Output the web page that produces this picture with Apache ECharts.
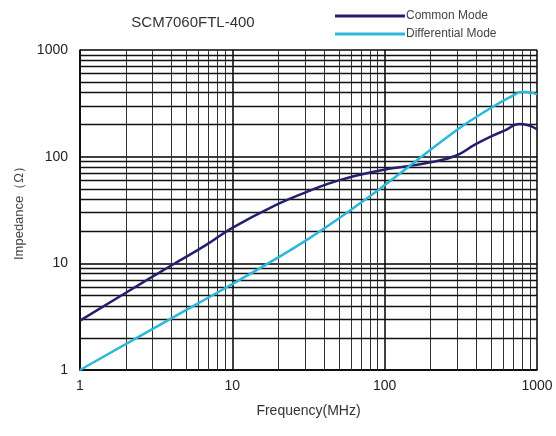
<!DOCTYPE html>
<html>
<head>
<meta charset="utf-8">
<script src="https://cdn.jsdelivr.net/npm/echarts@6/dist/echarts.min.js"></script>
<style>html,body{margin:0;padding:0;background:#fff;}#c{width:556px;height:436px;}</style>
</head>
<body>
<div id="c"></div>
<script>
var titleText = 'SCM7060FTL-400';
var seriesNames = ['Common Mode', 'Differential Mode'];
var commonFreq = [1, 2, 4, 6.7, 10, 20, 30, 50, 97, 145, 196, 293, 396, 509, 622, 761, 863, 1000];
var commonZ    = [2.9, 5.3, 9.6, 14.8, 21.5, 36, 46, 60, 75, 82, 88, 102, 131, 157, 177, 202, 198, 181];
var diffFreq = [1, 3.9, 10, 30.5, 79, 293, 484, 689, 800, 900, 1000];
var diffZ    = [1.0, 3.0, 6.4, 16.4, 42, 175, 280, 372, 405, 400, 386];
var xMinorTicks = [2,3,4,5,6,7,8,9,20,30,40,50,60,70,80,90,200,300,400,500,600,700,800,900];
var yMinorTicks = [2,3,4,5,6,7,8,9,20,30,40,50,60,70,80,90,200,300,400,500,600,700,800,900];
var xAxisName = 'Frequency(MHz)';
var yAxisName = 'Impedance（Ω）';

function pairs(xs, ys){ return xs.map(function(x,i){ return [x, ys[i]]; }); }

var chart = echarts.init(document.getElementById('c'), null, {renderer:'canvas'});
var font = 'Liberation Sans, Arial, sans-serif';
var gridMarks = xMinorTicks.map(function(v){ return {xAxis: v, lineStyle:{color:'#333', width:1, type:'solid'}}; })
  .concat(yMinorTicks.map(function(v){ return {yAxis: v, lineStyle:{color:'#111', width:1.4, type:'solid'}}; }));

chart.setOption({
  animation: false,
  backgroundColor: '#fff',
  title: {
    text: titleText, left: 188, top: 10, textAlign: 'center',
    textStyle: {fontFamily: font, fontSize: 15, fontWeight: 'normal', color: '#333'}
  },
  legend: {
    data: seriesNames.map(function(n){ return {name: n, icon: 'rect'}; }),
    orient: 'vertical', left: 330, top: 5, itemWidth: 70, itemHeight: 3, itemGap: 6,
    textStyle: {fontFamily: font, fontSize: 12, color: '#444', padding: [0,0,0,-4]}
  },
  grid: {left: 80, right: 19, top: 50, bottom: 66},
  xAxis: {
    type: 'log', logBase: 10, min: 1, max: 1000,
    name: xAxisName, nameLocation: 'middle', nameGap: 34,
    nameTextStyle: {fontFamily: font, fontSize: 14, color: '#333'},
    axisLine: {show: true, lineStyle: {color: '#000', width: 1.5}},
    axisTick: {show: false},
    axisLabel: {fontFamily: font, fontSize: 14, color: '#222', margin: 9, formatter: function(v){ return String(Math.round(v)); }},
    splitLine: {show: true, lineStyle: {color: '#000', width: 1.5}}
  },
  yAxis: {
    type: 'log', logBase: 10, min: 1, max: 1000,
    name: yAxisName, nameLocation: 'middle', nameGap: 52, nameRotate: 90,
    nameTextStyle: {fontFamily: font, fontSize: 13, color: '#444'},
    axisLine: {show: true, lineStyle: {color: '#000', width: 1.5}},
    axisTick: {show: false},
    axisLabel: {fontFamily: font, fontSize: 14, color: '#222', margin: 12, formatter: function(v){ return String(Math.round(v)); }},
    splitLine: {show: true, lineStyle: {color: '#000', width: 1.5}}
  },
  series: [
    {
      name: 'grid', type: 'line', data: [], z: 1, silent: true,
      markLine: {silent: true, symbol: 'none', label: {show: false}, animation: false,
        lineStyle: {type: 'solid'}, emphasis: {disabled: true}, data: gridMarks}
    },
    {
      name: seriesNames[0], type: 'line', data: pairs(commonFreq, commonZ), smooth: 0.5,
      symbol: 'none', z: 5, color: '#23206e', lineStyle: {color: '#23206e', width: 2.5}
    },
    {
      name: seriesNames[1], type: 'line', data: pairs(diffFreq, diffZ), smooth: 0.4,
      symbol: 'none', z: 5, color: '#2bb8da', lineStyle: {color: '#2bb8da', width: 2.5}
    }
  ]
});
</script>
</body>
</html>
